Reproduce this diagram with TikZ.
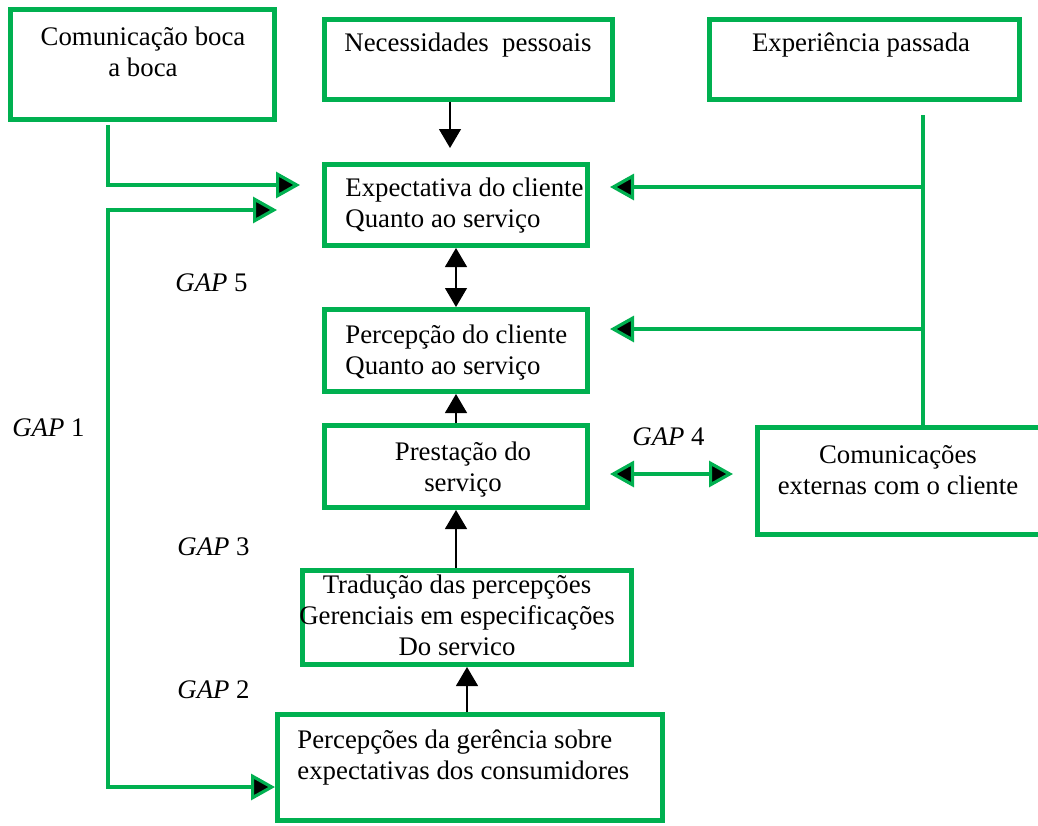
\documentclass[tikz,border=0pt]{standalone}
\usepackage{fontspec}
\setmainfont{Liberation Serif}
\usepackage{tikz}
\usetikzlibrary{arrows.meta}
\definecolor{gapGreen}{RGB}{0,176,80}
\newcommand{\gapLabel}[1]{\textit{GAP} #1}

\begin{document}
\begin{tikzpicture}[x=0.5pt, y=-0.5pt]
  \tikzset{every node/.style={font=\fontsize{13.4}{15.5}\selectfont},
           gapBox/.style={draw=gapGreen, line width=2.5pt, inner sep=0pt},
           boxText/.style={align=center, inner sep=0pt},
           greenLine/.style={draw=gapGreen, line width=1.6pt},
           greenTip/.style={>={Triangle[length=12pt,width=13pt,fill=black]}},
           blackArrow/.style={draw=black, line width=0.6pt, >={Triangle[length=9.5pt,width=11pt]}}}
  \useasboundingbox[fill=white] (0,0) rectangle (1038,825);
  % boxes
  \node[gapBox, minimum width=132pt, minimum height=55pt] (boca) at (142.5,64.5) {};
  \node[gapBox, minimum width=144pt, minimum height=40pt] (nec) at (468.5,59.5) {};
  \node[gapBox, minimum width=155pt, minimum height=40pt] (exper) at (864.5,59.5) {};
  \node[gapBox, minimum width=131.5pt, minimum height=40.5pt] (expec) at (456,205) {};
  \node[gapBox, minimum width=131.5pt, minimum height=41pt] (perc) at (456,350.5) {};
  \node[gapBox, minimum width=131.5pt, minimum height=41pt] (prest) at (456,466.5) {};
  \node[gapBox, minimum width=164.5pt, minimum height=47pt] (trad) at (467,617.5) {};
  \node[gapBox, minimum width=192.5pt, minimum height=53pt] (ger) at (470,767.5) {};
  \node[gapBox, minimum width=142.5pt, minimum height=53.5pt] (com) at (900,481) {};
  % texts
  \node[boxText] (bocaText) at (143,52) {Comunicação boca\\a boca};
  \node[boxText] (necText) at (468,45) {Necessidades~ pessoais};
  \node[boxText] (experText) at (861,45) {Experiência passada};
  \node[boxText, align=left, anchor=west] (expecText) at (345,206) {Expectativa do cliente\\Quanto ao serviço};
  \node[boxText, align=left, anchor=west] (percText) at (345,353) {Percepção do cliente\\Quanto ao serviço};
  \node[boxText] (prestText) at (463,470) {Prestação do\\serviço};
  \node[boxText] (tradText) at (457,615) {Tradução das percepções\\Gerenciais em especificações\\Do servico};
  \node[boxText, align=left, anchor=west] (gerText) at (297,758) {Percepções da gerência sobre\\expectativas dos consumidores};
  \node[boxText] (comText) at (898,470) {Comunicações\\externas com o cliente};
  \node[boxText, anchor=west] (gapFive) at (175,283) {\gapLabel{5}};
  \node[boxText, anchor=west] (gapOne) at (12,428) {\gapLabel{1}};
  \node[boxText, anchor=west] (gapFour) at (632,437) {\gapLabel{4}};
  \node[boxText, anchor=west] (gapThree) at (177,547) {\gapLabel{3}};
  \node[boxText, anchor=west] (gapTwo) at (177,690) {\gapLabel{2}};
  % free ends
  \coordinate (leftLine) at (108,0);
  \coordinate (bocaOut) at (108,125);
  \coordinate (expecInA) at (300,185);
  \coordinate (expecInB) at (277,210);
  \coordinate (gerIn) at (275,787);
  \coordinate (expOut) at (923,115);
  \coordinate (expecInC) at (610,187);
  \coordinate (percInC) at (610,329);
  \coordinate (gapFourL) at (610,474);
  \coordinate (gapFourR) at (733,474);
  \coordinate (necLine) at (450,0);
  % black arrows
  \draw[blackArrow, ->, shorten >=7pt] (nec.south -| necLine) -- (expec.north -| necLine);
  \draw[blackArrow, <->] (expec.south) -- (perc.north);
  \draw[blackArrow, ->] (prest.north) -- (perc.south);
  \draw[blackArrow, ->] (trad.north -| prest.south) -- (prest.south);
  \draw[blackArrow, ->] (ger.north -| trad.south) -- (trad.south);
  % green connectors
  \draw[greenLine, greenTip, ->] (bocaOut) |- (expecInA);
  \draw[greenLine, greenTip, <->] (expecInB) -| (leftLine |- gerIn) -- (gerIn);
  \draw[greenLine] (expOut) -- (expOut |- com.north);
  \draw[greenLine, greenTip, ->] (expOut |- expecInC) -- (expecInC);
  \draw[greenLine, greenTip, ->] (expOut |- percInC) -- (percInC);
  \draw[greenLine, greenTip, <->] (gapFourL) -- (gapFourR);
\end{tikzpicture}
\end{document}
